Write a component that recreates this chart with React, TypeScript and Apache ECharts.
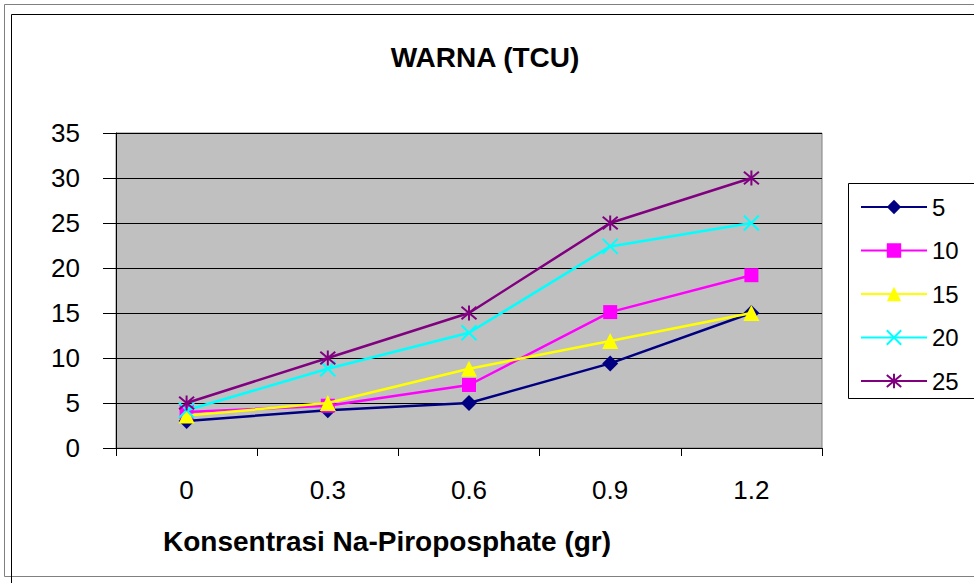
import React, { useEffect, useRef } from "react";
import * as echarts from "echarts";

const categories = ["0", "0.3", "0.6", "0.9", "1.2"];
const seriesNames = ["5", "10", "15", "20", "25"];
const s5 = [3.0, 4.2, 5.0, 9.4, 15.0];
const s10 = [4.0, 4.7, 7.0, 15.1, 19.2];
const s15 = [3.6, 5.0, 8.8, 11.9, 15.0];
const s20 = [4.2, 8.8, 12.8, 22.4, 25.0];
const s25 = [5.0, 10.0, 15.0, 25.0, 30.0];
const titleText = "WARNA (TCU)";
const xName = "Konsentrasi Na-Piroposphate (gr)";

const FONT = "'Liberation Sans', Arial, sans-serif";

export default function App() {
  const ref = useRef<HTMLDivElement>(null);
  useEffect(() => {
    document.body.style.margin = "0";
    if (!ref.current) return;
    const chart = echarts.init(ref.current, undefined, { renderer: "svg" });
    const colors = ["#000080", "#FF00FF", "#FFFF00", "#00FFFF", "#800080"];
    const symbols = [
      "diamond",
      "rect",
      "triangle",
      "path://M0,0L10,10M10,0L0,10",
      "path://M0,0L10,10M10,0L0,10M5,-1L5,11",
    ];
    const sizes = [16, 14, 16, 15, 15];
    const data = [s5, s10, s15, s20, s25];
    const series = data.map((d, i) => ({
      name: seriesNames[i],
      type: "line",
      data: d,
      symbol: symbols[i],
      symbolSize: sizes[i],
      showSymbol: true,
      lineStyle: { color: colors[i], width: 2.5 },
      itemStyle: {
        color: colors[i],
        borderColor: colors[i],
        borderWidth: i >= 3 ? 2 : 0,
      },
      z: 2 + i,
    }));
    chart.setOption({
      animation: false,
      backgroundColor: "#ffffff",
      title: {
        text: titleText,
        left: 480,
        top: 38,
        textAlign: "center",
        textStyle: { fontFamily: FONT, fontSize: 28, fontWeight: "bold", color: "#000" },
      },
      legend: {
        orient: "vertical",
        left: 860,
        top: 195,
        itemWidth: 66,
        itemHeight: 18,
        itemGap: 19.5,
        itemTextGap: 9,
        padding: 0,
        textStyle: { fontFamily: FONT, fontSize: 24, color: "#000" },
        data: seriesNames,
      },
      grid: {
        left: 116,
        top: 133,
        width: 706,
        height: 315,
        show: true,
        backgroundColor: "#C0C0C0",
        borderColor: "#808080",
        borderWidth: 1,
      },
      xAxis: {
        type: "category",
        data: categories,
        boundaryGap: true,
        axisLine: { lineStyle: { color: "#000", width: 1 } },
        axisTick: { show: true, length: 8, lineStyle: { color: "#000" } },
        axisLabel: { fontFamily: FONT, fontSize: 26, color: "#000", margin: 29 },
        splitLine: { show: false },
      },
      yAxis: {
        type: "value",
        min: 0,
        max: 35,
        interval: 5,
        axisLine: { show: true, lineStyle: { color: "#000", width: 1 } },
        axisTick: { show: true, length: 13, lineStyle: { color: "#000" } },
        axisLabel: { fontFamily: FONT, fontSize: 26, color: "#000", margin: 36 },
        splitLine: { show: true, lineStyle: { color: "#000", width: 1 } },
      },
      graphic: [
        {
          type: "rect",
          shape: { x: 4.5, y: 4.5, width: 1000, height: 572 },
          style: { fill: "none", stroke: "#808080", lineWidth: 1 },
          silent: true,
        },
        {
          type: "rect",
          shape: { x: 11.5, y: 14.5, width: 1000, height: 600 },
          style: { fill: "none", stroke: "#000", lineWidth: 1 },
          silent: true,
        },
        {
          type: "rect",
          shape: { x: 848.5, y: 183.5, width: 200, height: 215 },
          style: { fill: "none", stroke: "#000", lineWidth: 1 },
          silent: true,
        },
        {
          type: "text",
          x: 163,
          y: 527,
          style: {
            text: xName,
            fontFamily: FONT,
            fontSize: 28,
            fontWeight: "bold",
            fill: "#000",
          },
        },
      ],
      series,
    });
    return () => chart.dispose();
  }, []);
  return <div ref={ref} style={{ width: 974, height: 583 }} />;
}
